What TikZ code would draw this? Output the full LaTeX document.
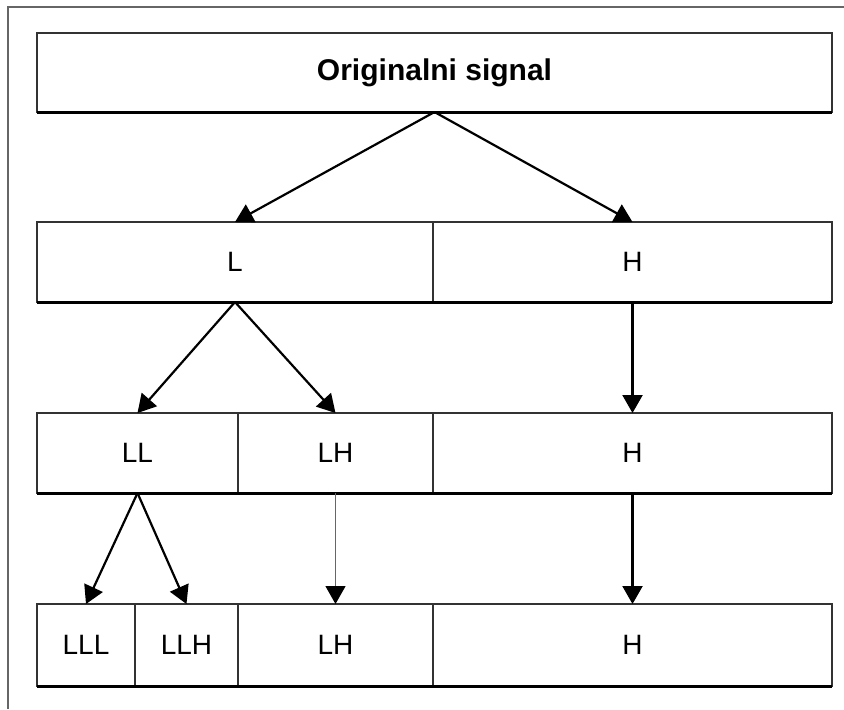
\documentclass[tikz,border=0pt]{standalone}
\usepackage{fontspec}
\setmainfont{Liberation Sans}
\usetikzlibrary{arrows.meta}

\begin{document}
\begin{tikzpicture}[x=0.5pt, y=-0.5pt]
        \tikzstyle{band}=[draw=black!80,line width=0.9pt,rectangle,inner sep=0pt,outer sep=0pt,font=\fontsize{14}{16}\selectfont]
        \tikzstyle{split}=[-{Triangle[length=9pt,width=10pt]},line width=1.1pt]
        \tikzstyle{thin split}=[-{Triangle[length=9pt,width=10pt,color=black]},line width=0.6pt,black!60]

        \useasboundingbox (0,0) rectangle (844,709);
        \draw[black!60,line width=0.8pt] (8,709) -- (8,7) -- (844,7);

        \node[band,minimum width=397.5pt,minimum height=39.5pt,font=\fontsize{15}{17}\selectfont\bfseries] (O) at (434.5,72.5) {Originalni signal};

        \node[band,minimum width=198pt,minimum height=40pt] (L_1) at (235,262) {L};
        \node[band,minimum width=199.5pt,minimum height=40pt] (H_1) at (632.5,262) {H};

        \node[band,minimum width=100.5pt,minimum height=40pt] (LL_2) at (137.5,453) {LL};
        \node[band,minimum width=97.5pt,minimum height=40pt] (LH_2) at (335.5,453) {LH};
        \node[band,minimum width=199.5pt,minimum height=40pt] (H_2) at (632.5,453) {H};

        \node[band,minimum width=49pt,minimum height=41pt] (LLL_3) at (86,645) {LLL};
        \node[band,minimum width=51.5pt,minimum height=41pt] (LLH_3) at (186.5,645) {LLH};
        \node[band,minimum width=97.5pt,minimum height=41pt] (LH_3) at (335.5,645) {LH};
        \node[band,minimum width=199.5pt,minimum height=41pt] (H_3) at (632.5,645) {H};

        % darker lower edges
        \foreach \b in {O,L_1,H_1,LL_2,LH_2,H_2,LLL_3,LLH_3,LH_3,H_3}
            \draw[line width=1.5pt] (\b.south west) -- (\b.south east);

        \draw[split] (O.south) -- (L_1.north);
        \draw[split] (O.south) -- (H_1.north);
        \draw[split] (L_1.south) -- (LL_2.north);
        \draw[split] (L_1.south) -- (LH_2.north);
        \draw[split] (H_1.south) -- (H_2.north);
        \draw[split] (LL_2.south) -- (LLL_3.north);
        \draw[split] (LL_2.south) -- (LLH_3.north);
        \draw[thin split] (LH_2.south) -- (LH_3.north);
        \draw[split] (H_2.south) -- (H_3.north);
\end{tikzpicture}
\end{document}
